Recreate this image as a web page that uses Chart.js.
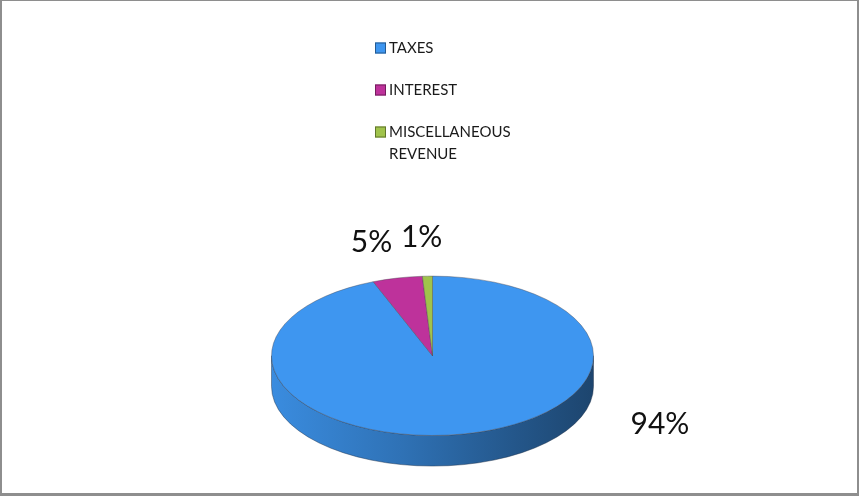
<!DOCTYPE html>
<html>
<head>
<meta charset="utf-8">
<script src="https://cdn.jsdelivr.net/npm/chart.js@4/dist/chart.umd.min.js"></script>
<style>
  html, body { margin: 0; padding: 0; background: #fff; }
  #wrap { position: relative; width: 859px; height: 496px; overflow: hidden; }
  #frame {
    position: absolute; left: 0; top: 0; right: 0; bottom: 0;
    border-style: solid; border-color: #8e8e8e;
    border-width: 1px 2px 3px 2px;
    pointer-events: none;
  }
</style>
</head>
<body>
<div id="wrap">
  <canvas id="revenuePie" width="859" height="496"></canvas>
  <div id="frame"></div>
</div>
<script>
const categories = ['TAXES', 'INTEREST', 'MISCELLANEOUS REVENUE'];
const shares = [94, 5, 1];
const sliceColors = ['#3e96f0', '#be329b', '#a0c34b'];

// look of the tilted pie
const tilt = 0.495;        // vertical squash of the top face
const depthRatio = 0.19;   // wall height relative to radius
// where each percentage sits, in ellipse units (angle in degrees, canvas style)
const labelPlacement = [
    { angle: 31.4, dist: 1.655 },
    { angle: 255.1, dist: 1.474 },
    { angle: 267.4, dist: 1.489 }
];
const legendLayout = { x: 375, y: 48, step: 42, box: 11, gap: 3, lineHeight: 22, maxWidth: 135 };

const shade = (hex, f) => {
    const n = parseInt(hex.slice(1), 16);
    const c = [n >> 16, (n >> 8) & 255, n & 255].map(v => Math.round(v * f));
    return `rgb(${c[0]}, ${c[1]}, ${c[2]})`;
};

const geometry = (chart) => {
    const arcs = chart.getDatasetMeta(0).data;
    const { x, y, outerRadius } = arcs[0];
    const pivot = y + outerRadius; // front rim stays put, the disc leans back
    return {
        arcs, cx: x, r: outerRadius, pivot,
        ey: pivot - outerRadius * tilt,
        ry: outerRadius * tilt,
        depth: outerRadius * depthRatio
    };
};

const pie3d = {
    id: 'pie3d',
    beforeDatasetsDraw(chart) {
        const ctx = chart.ctx;
        const g = geometry(chart);

        // outer walls: only the front half of the disc can be seen
        g.arcs.forEach((arc, i) => {
            const s = Math.max(arc.startAngle, 0);
            const e = Math.min(arc.endAngle, Math.PI);
            if (e <= s) return;
            const base = sliceColors[i];
            const grad = ctx.createLinearGradient(g.cx - g.r, 0, g.cx + g.r, 0);
            grad.addColorStop(0, shade(base, 0.93));
            grad.addColorStop(0.4, shade(base, 0.76));
            grad.addColorStop(0.75, shade(base, 0.58));
            grad.addColorStop(1, shade(base, 0.46));
            ctx.save();
            ctx.beginPath();
            ctx.ellipse(g.cx, g.ey, g.r, g.ry, 0, s, e, false);
            ctx.ellipse(g.cx, g.ey + g.depth, g.r, g.ry, 0, e, s, true);
            ctx.closePath();
            ctx.fillStyle = grad;
            ctx.fill();
            ctx.lineWidth = 0.8;
            ctx.strokeStyle = 'rgba(30, 45, 70, 0.55)';
            ctx.stroke();
            ctx.restore();
        });

        // squash the library's own arcs into the top face
        ctx.save();
        ctx.translate(0, g.pivot);
        ctx.scale(1, tilt);
        ctx.translate(0, -g.pivot);
    },
    afterDatasetsDraw(chart) {
        const ctx = chart.ctx;
        ctx.restore();
        const g = geometry(chart);
        const total = shares.reduce((a, b) => a + b, 0);

        ctx.save();
        ctx.font = '30px Lato';
        ctx.fillStyle = '#111';
        ctx.textAlign = 'center';
        ctx.textBaseline = 'middle';
        shares.forEach((v, i) => {
            const p = labelPlacement[i];
            const a = p.angle * Math.PI / 180;
            const x = g.cx + g.r * p.dist * Math.cos(a);
            const y = g.ey + g.ry * p.dist * Math.sin(a);
            ctx.fillText(Math.round(v / total * 100) + '%', x, y);
        });
        ctx.restore();
    },
    afterDraw(chart) {
        const ctx = chart.ctx;
        const L = legendLayout;
        ctx.save();
        ctx.font = '15px Lato';
        ctx.textBaseline = 'middle';
        ctx.textAlign = 'left';
        categories.forEach((name, i) => {
            const cy = L.y + i * L.step;
            ctx.fillStyle = sliceColors[i];
            ctx.fillRect(L.x, cy - L.box / 2, L.box, L.box);
            ctx.lineWidth = 1;
            ctx.strokeStyle = shade(sliceColors[i], 0.6);
            ctx.strokeRect(L.x + 0.5, cy - L.box / 2 + 0.5, L.box - 1, L.box - 1);

            // wrap long names onto extra lines
            const lines = [];
            let line = '';
            name.split(' ').forEach(word => {
                const test = line ? line + ' ' + word : word;
                if (line && ctx.measureText(test).width > L.maxWidth) {
                    lines.push(line);
                    line = word;
                } else {
                    line = test;
                }
            });
            lines.push(line);
            ctx.fillStyle = '#1a1a1a';
            lines.forEach((t, k) => {
                ctx.fillText(t, L.x + L.box + L.gap, cy + k * L.lineHeight);
            });
        });
        ctx.restore();
    }
};

new Chart(document.getElementById('revenuePie'), {
    type: 'pie',
    data: {
        labels: categories,
        datasets: [{
            data: shares,
            backgroundColor: sliceColors,
            borderColor: 'rgba(70, 70, 80, 0.55)',
            borderWidth: 1,
            hoverOffset: 0
        }]
    },
    options: {
        responsive: false,
        animation: false,
        devicePixelRatio: 1,
        layout: {
            padding: { left: 271, right: 265, top: 113, bottom: 60 }
        },
        plugins: {
            legend: { display: false },
            tooltip: { enabled: false }
        }
    },
    plugins: [pie3d]
});
</script>
</body>
</html>
